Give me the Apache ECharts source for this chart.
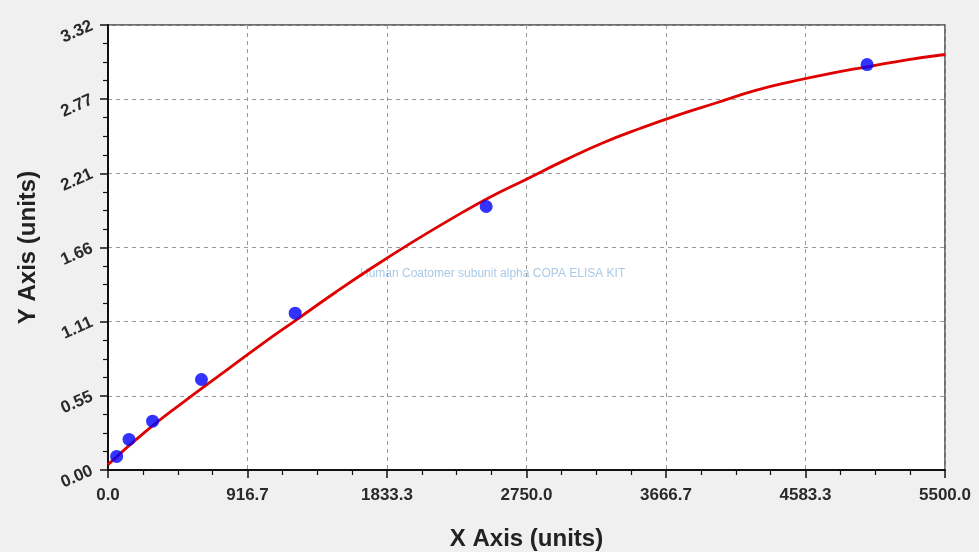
<!DOCTYPE html>
<html>
<head>
<meta charset="utf-8">
<script src="https://cdn.jsdelivr.net/npm/echarts@6/dist/echarts.min.js"></script>
<style>
html,body{margin:0;padding:0;background:#f0f0f0;}
#chart{width:979px;height:552px;}
</style>
</head>
<body>
<div id="chart"></div>
<script>
// Standard points
const pointX = [57, 138, 293, 614, 1230, 2485, 4988];
const pointY = [0.101, 0.228, 0.364, 0.675, 1.17, 1.966, 3.025];
// Fitted curve
const curveX = [0, 250, 500, 750, 1000, 1250, 1500, 1750, 2000, 2250, 2500, 2750, 3000, 3250, 3500, 3750, 4000, 4250, 4500, 4750, 5000, 5250, 5500];
const curveY = [0.04, 0.29, 0.51, 0.72, 0.93, 1.13, 1.33, 1.52, 1.70, 1.87, 2.03, 2.17, 2.31, 2.44, 2.55, 2.65, 2.74, 2.83, 2.90, 2.96, 3.01, 3.06, 3.10];
const xMax = 5500;
const yMax = 3.32;
const xTitle = 'X Axis (units)';
const yTitle = 'Y Axis (units)';
const watermark = 'Human Coatomer subunit alpha COPA ELISA KIT';

const chart = echarts.init(document.getElementById('chart'));
const font = 'Liberation Sans, Arial, sans-serif';
chart.setOption({
  backgroundColor: '#f0f0f0',
  animation: false,
  grid: {left: 108, right: 34, top: 25, bottom: 82, show: true, backgroundColor: '#ffffff', borderColor: '#444', borderWidth: 1.5,
    containLabel: false, outerBoundsMode: 'none'},
  xAxis: {
    type: 'value', min: 0, max: xMax, interval: xMax / 6,
    name: xTitle, nameLocation: 'middle', nameGap: 57,
    nameTextStyle: {fontFamily: font, fontWeight: 'bold', fontSize: 24, color: '#222'},
    axisLine: {show: true, onZero: false, lineStyle: {color: '#111', width: 2}},
    axisTick: {show: true, inside: false, length: 8, lineStyle: {color: '#111', width: 1.5}},
    minorTick: {show: true, splitNumber: 4, length: 5, lineStyle: {color: '#111', width: 1.2}},
    axisLabel: {fontFamily: font, fontWeight: 'bold', fontSize: 17, color: '#2a2a2a', margin: 17,
      formatter: v => v.toFixed(1)},
    splitLine: {show: true, lineStyle: {color: '#999', type: [4, 4], width: 1}}
  },
  yAxis: {
    type: 'value', min: 0, max: yMax, interval: yMax / 6,
    name: yTitle, nameLocation: 'middle', nameGap: 68, nameRotate: 90,
    nameTextStyle: {fontFamily: font, fontWeight: 'bold', fontSize: 24, color: '#222'},
    axisLine: {show: true, onZero: false, lineStyle: {color: '#111', width: 2}},
    axisTick: {show: true, inside: false, length: 8, lineStyle: {color: '#111', width: 1.5}},
    minorTick: {show: true, splitNumber: 4, length: 5, lineStyle: {color: '#111', width: 1.2}},
    axisLabel: {fontFamily: font, fontWeight: 'bold', fontSize: 17, color: '#2a2a2a', margin: 16, rotate: 24,
      formatter: v => v.toFixed(2)},
    splitLine: {show: true, lineStyle: {color: '#999', type: [4, 4], width: 1}}
  },
  graphic: [{
    type: 'text', left: 360, top: 268, silent: true,
    style: {text: watermark, fill: '#a9c9e6', font: '12px ' + font}
  }],
  series: [
    {
      type: 'line', data: curveX.map((x, i) => [x, curveY[i]]), smooth: true, symbol: 'none',
      lineStyle: {color: '#e00000', width: 2.8}, z: 2
    },
    {
      type: 'scatter', data: pointX.map((x, i) => [x, pointY[i]]), symbol: 'circle', symbolSize: 13,
      itemStyle: {color: '#0000ff'}, z: 3
    }
  ]
});
</script>
</body>
</html>
